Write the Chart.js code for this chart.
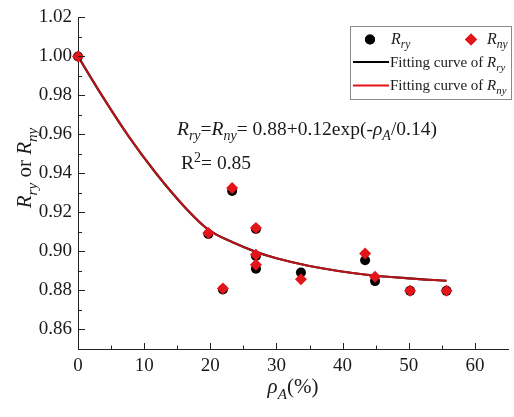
<!DOCTYPE html>
<html>
<head>
<meta charset="utf-8">
<script src="https://cdn.jsdelivr.net/npm/chart.js@4.4.1/dist/chart.umd.min.js"></script>
<style>
  html, body { margin: 0; padding: 0; background: #fff; }
</style>
</head>
<body>
<canvas id="myChart" width="514" height="417"></canvas>
<script>
// data
const rhoA = [0, 19.7, 21.9, 23.3, 26.9, 26.9, 26.9, 33.7, 43.4, 44.9, 50.2, 55.7];
const Rry  = [1.000, 0.909, 0.8805, 0.931, 0.9115, 0.8977, 0.8912, 0.8892, 0.8955, 0.8848, 0.8798, 0.8798];
const Rny  = [1.000, 0.9095, 0.881, 0.9325, 0.912, 0.8983, 0.8932, 0.8858, 0.899, 0.887, 0.8798, 0.8798];
const fitX = [0, 3.7, 7.5, 11.7, 16.4, 19.7, 23.3, 26.9, 30, 34.8, 43.3, 50, 55.7];
const fitY = [1.000, 0.9795, 0.9598, 0.9405, 0.9218, 0.9112, 0.9048, 0.8998, 0.8965, 0.8927, 0.8882, 0.8862, 0.8850];
const xTicks = [0, 10, 20, 30, 40, 50, 60];
const xMinor = [5, 15, 25, 35, 45, 55];
const yTicks = [0.86, 0.88, 0.90, 0.92, 0.94, 0.96, 0.98, 1.00, 1.02];
const yMinor = [0.87, 0.89, 0.91, 0.93, 0.95, 0.97, 0.99, 1.01];

const SERIF = '"Liberation Serif", "Times New Roman", serif';
const RED = '#e4141b';

const pts = (xs, ys) => xs.map((x, i) => ({x: x, y: ys[i]}));

// text with italic / subscript / superscript runs
function setFont(ctx, p, size) {
  const small = (p[1] === 's' || p[1] === 'u' || p[1] === 'si');
  const s = small ? size * 0.72 : size;
  ctx.font = ((p[1] === 'i' || p[1] === 's' || p[1] === 'si') ? 'italic ' : '') + s + 'px ' + SERIF;
}
function richWidth(ctx, parts, size) {
  let w = 0;
  parts.forEach(p => { setFont(ctx, p, size); w += ctx.measureText(p[0]).width; });
  return w;
}
function drawRich(ctx, parts, x, y, size, align) {
  if (align === 'center') x -= richWidth(ctx, parts, size) / 2;
  ctx.textBaseline = 'alphabetic';
  ctx.textAlign = 'left';
  parts.forEach(p => {
    setFont(ctx, p, size);
    let dy = 0;
    if (p[1] === 's' || p[1] === 'si') dy = size * 0.28;
    if (p[1] === 'u') dy = -size * 0.38;
    ctx.fillText(p[0], x, y + dy);
    x += ctx.measureText(p[0]).width;
  });
}

const extras = {
  id: 'extras',
  afterDraw(chart) {
    const ctx = chart.ctx;
    const xs = chart.scales.x, ys = chart.scales.y;
    const area = chart.chartArea;
    ctx.save();
    ctx.strokeStyle = '#222';
    ctx.lineWidth = 1;
    ctx.beginPath();
    xTicks.forEach(v => { const px = Math.round(xs.getPixelForValue(v)) + 0.5; ctx.moveTo(px, area.bottom); ctx.lineTo(px, area.bottom - 6); });
    xMinor.forEach(v => { const px = Math.round(xs.getPixelForValue(v)) + 0.5; ctx.moveTo(px, area.bottom); ctx.lineTo(px, area.bottom - 3.5); });
    yTicks.forEach(v => { const py = Math.round(ys.getPixelForValue(v)) + 0.5; ctx.moveTo(area.left, py); ctx.lineTo(area.left + 7, py); });
    yMinor.forEach(v => { const py = Math.round(ys.getPixelForValue(v)) + 0.5; ctx.moveTo(area.left, py); ctx.lineTo(area.left + 4, py); });
    ctx.stroke();

    ctx.fillStyle = '#1a1a1a';
    // axis titles
    drawRich(ctx, [['ρ', 'i'], ['A', 'si'], ['(%)', 'n']], (area.left + area.right) / 2, 393, 21, 'center');
    ctx.save();
    ctx.translate(31, 168);
    ctx.rotate(-Math.PI / 2);
    drawRich(ctx, [['R', 'i'], ['ry', 's'], [' or ', 'n'], ['R', 'i'], ['ny', 's']], 0, 0, 21, 'center');
    ctx.restore();

    // equation
    drawRich(ctx, [['R', 'i'], ['ry', 's'], ['=', 'n'], ['R', 'i'], ['ny', 's'], ['= 0.88+0.12exp(-', 'n'], ['ρ', 'i'], ['A', 'si'], ['/0.14)', 'n']], 177, 135, 19.5);
    drawRich(ctx, [['R', 'n'], ['2', 'u'], ['= 0.85', 'n']], 181, 169, 19.5);

    // legend
    ctx.strokeStyle = '#8a8a8a';
    ctx.strokeRect(350.5, 26.5, 161, 73);
    const pr = chart.data.datasets[1], pb = chart.data.datasets[0];
    Chart.helpers.drawPoint(ctx, {pointStyle: pb.pointStyle, radius: pb.pointRadius, borderWidth: 0}, 370, 39.5);
    ctx.fillStyle = pb.backgroundColor; ctx.fill();
    ctx.fillStyle = pr.backgroundColor;
    Chart.helpers.drawPoint(ctx, {pointStyle: pr.pointStyle, radius: pr.pointRadius, borderWidth: 0}, 471, 39.5);
    ctx.fill();
    ctx.lineWidth = 2;
    ctx.strokeStyle = '#000';
    ctx.beginPath(); ctx.moveTo(353, 62); ctx.lineTo(389, 62); ctx.stroke();
    ctx.strokeStyle = RED;
    ctx.beginPath(); ctx.moveTo(353, 85.5); ctx.lineTo(389, 85.5); ctx.stroke();
    ctx.fillStyle = '#1a1a1a';
    drawRich(ctx, [['R', 'i'], ['ry', 's']], 391, 44, 16);
    drawRich(ctx, [['R', 'i'], ['ny', 's']], 487, 44, 16);
    drawRich(ctx, [['Fitting curve of ', 'n'], ['R', 'i'], ['ry', 's']], 390, 66.5, 15);
    drawRich(ctx, [['Fitting curve of ', 'n'], ['R', 'i'], ['ny', 's']], 390, 90, 15);
    ctx.restore();
  }
};

const ctx = document.getElementById('myChart').getContext('2d');
const myChart = new Chart(ctx, {
  type: 'scatter',
  data: {
    datasets: [
      { label: 'Rry', data: pts(rhoA, Rry), pointStyle: 'circle', pointRadius: 5,
        backgroundColor: '#000', borderWidth: 0, order: 1 },
      { label: 'Rny', data: pts(rhoA, Rny), pointStyle: 'rectRot', pointRadius: 6,
        backgroundColor: RED, borderWidth: 0, order: 0 },
      { label: 'Fitting curve of Rry', data: pts(fitX, fitY), showLine: true, pointRadius: 0,
        borderColor: '#000', borderWidth: 2.2, cubicInterpolationMode: 'monotone', order: 3 },
      { label: 'Fitting curve of Rny', data: pts(fitX, fitY), showLine: true, pointRadius: 0,
        borderColor: 'rgba(206,22,28,0.9)', borderWidth: 2, cubicInterpolationMode: 'monotone', order: 2 }
    ]
  },
  options: {
    responsive: false,
    animation: false,
    clip: false,
    layout: { padding: { top: 10, right: 1, left: 0, bottom: 0 } },
    plugins: { legend: { display: false }, tooltip: { enabled: false } },
    scales: {
      x: {
        type: 'linear', min: 0, max: 65,
        afterBuildTicks: s => { s.ticks = xTicks.map(v => ({value: v})); },
        afterFit: s => { s.height = 68; },
        grid: { display: false, drawTicks: false },
        border: { display: true, color: '#222', width: 1 },
        ticks: { padding: 6, color: '#1a1a1a', font: { family: SERIF, size: 19 } }
      },
      y: {
        type: 'linear', min: 0.85, max: 1.02,
        afterBuildTicks: s => { s.ticks = yTicks.map(v => ({value: v})); },
        afterFit: s => { s.width = 78; },
        grid: { display: false, drawTicks: false },
        border: { display: true, color: '#222', width: 1 },
        ticks: { padding: 6, color: '#1a1a1a', font: { family: SERIF, size: 19 },
          callback: v => v.toFixed(2) }
      }
    }
  },
  plugins: [extras]
});
</script>
</body>
</html>
